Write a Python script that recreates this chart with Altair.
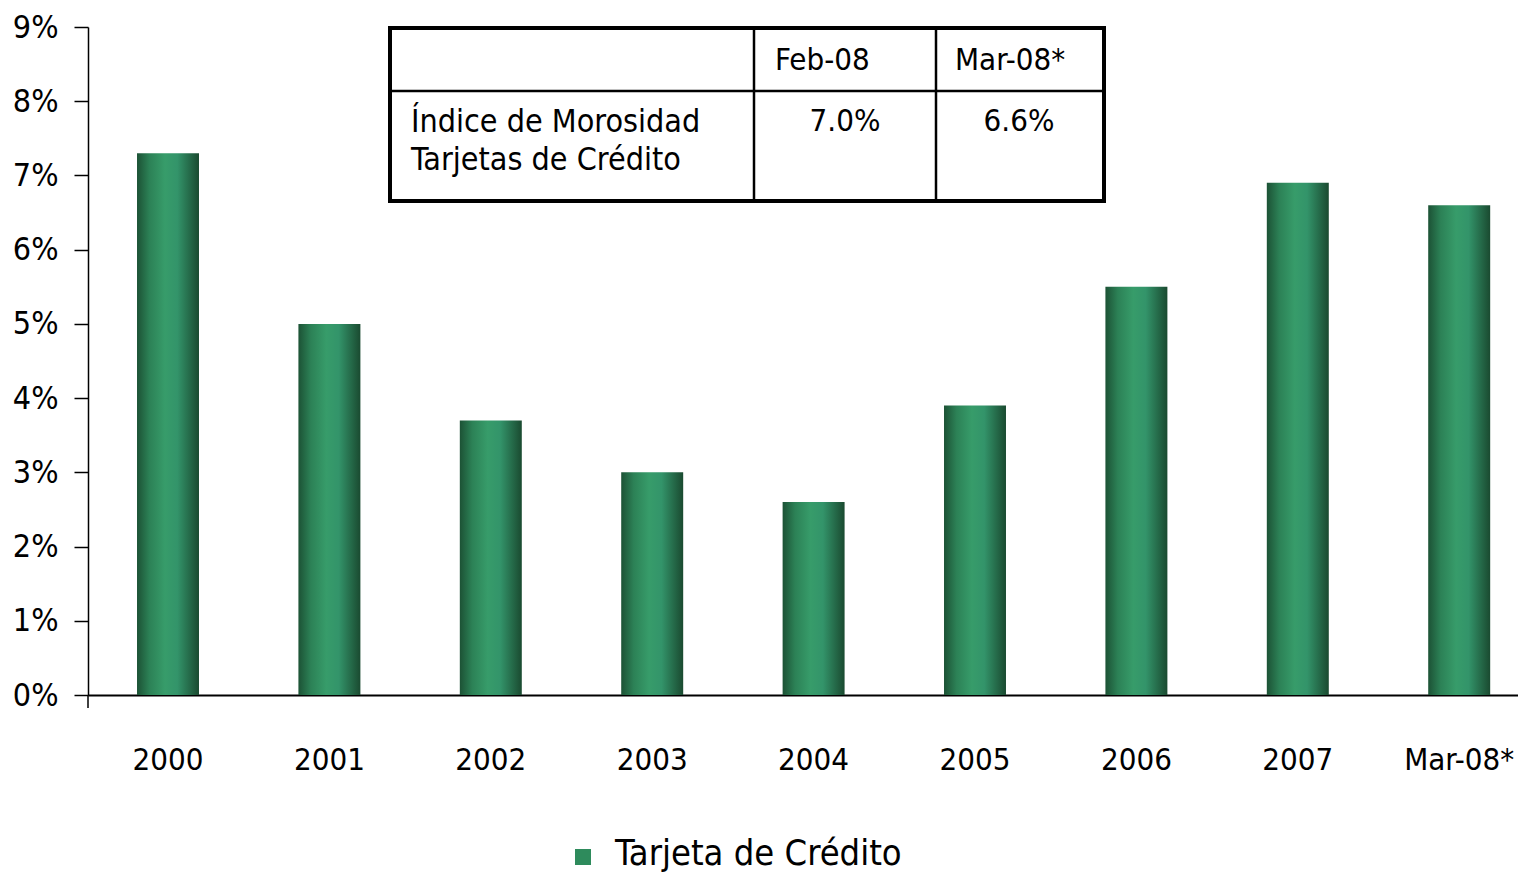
import altair as alt
import pandas as pd

categories = ["2000", "2001", "2002", "2003", "2004", "2005", "2006", "2007", "Mar-08*"]
values = [7.3, 5.0, 3.7, 3.0, 2.6, 3.9, 5.5, 6.9, 6.6]
y_ticks = [0, 1, 2, 3, 4, 5, 6, 7, 8, 9]
series_name = "Tarjeta de Crédito"
table_header = ["", "Feb-08", "Mar-08*"]
table_row_label = ["Índice de Morosidad", "Tarjetas de Crédito"]
table_row_values = ["7.0%", "6.6%"]

FONT = "Liberation Sans Narrow, DejaVu Sans Condensed, sans-serif"

df = pd.DataFrame({"cat": categories, "val": values})
one = pd.DataFrame({"a": [0]})

grad = alt.LinearGradient(
    gradient="linear",
    x1=0, x2=1, y1=0, y2=0,
    stops=[
        alt.GradientStop(color="#1c5235", offset=0),
        alt.GradientStop(color="#2c8156", offset=0.2),
        alt.GradientStop(color="#379c6a", offset=0.45),
        alt.GradientStop(color="#33946a", offset=0.65),
        alt.GradientStop(color="#1a4a30", offset=1),
    ],
)

bars = alt.Chart(df).mark_bar(fill=grad).encode(
    x=alt.X(
        "cat:N",
        sort=categories,
        scale=alt.Scale(paddingInner=0.616, paddingOuter=0.238, align=0.638),
        axis=alt.Axis(
            title=None, labelAngle=0, ticks=False, labelPadding=50,
            labelFontSize=31, labelFont=FONT, labelColor="black",
            domainColor="black", domainWidth=2,
        ),
    ),
    y=alt.Y(
        "val:Q",
        scale=alt.Scale(domain=[0, 9], nice=False),
        axis=alt.Axis(
            values=y_ticks, labelExpr="datum.value + '%'", title=None, grid=False,
            tickSize=14, tickColor="black", tickWidth=1.5,
            domainColor="black", domainWidth=1.5,
            labelFontSize=32, labelPadding=16, labelColor="black", labelFont=FONT,
        ),
    ),
)

# small extension of the vertical axis below the baseline
ext = alt.Chart(one).mark_rule(color="black", strokeWidth=1.5).encode(
    x=alt.value(0), y=alt.value(668), y2=alt.value(681)
)

# table
box = alt.Chart(one).mark_rect(fill="white", stroke="black", strokeWidth=4).encode(
    x=alt.value(302), x2=alt.value(1016), y=alt.value(1), y2=alt.value(174)
)
hline = alt.Chart(one).mark_rule(color="black", strokeWidth=2.5).encode(
    x=alt.value(302), x2=alt.value(1016), y=alt.value(64)
)
vline1 = alt.Chart(one).mark_rule(color="black", strokeWidth=2.5).encode(
    x=alt.value(666), y=alt.value(1), y2=alt.value(174)
)
vline2 = alt.Chart(one).mark_rule(color="black", strokeWidth=2.5).encode(
    x=alt.value(848), y=alt.value(1), y2=alt.value(174)
)


def txt(s, x, y, align="left", size=31):
    return alt.Chart(one).mark_text(
        align=align, baseline="middle", fontSize=size, font=FONT, color="black"
    ).encode(x=alt.value(x), y=alt.value(y), text=alt.value(s))


t_feb = txt(table_header[1], 687, 34)
t_mar = txt(table_header[2], 867, 34)
t_r1 = txt(table_row_label[0], 323, 95, size=32)
t_r2 = txt(table_row_label[1], 323, 133, size=32)
t_v1 = txt(table_row_values[0], 757, 95, align="center")
t_v2 = txt(table_row_values[1], 931, 95, align="center")

# legend
leg_sq = alt.Chart(one).mark_square(size=256, fill="#2e8b5c", opacity=1).encode(
    x=alt.value(495), y=alt.value(830)
)
leg_tx = txt(series_name, 527, 827, size=36)

chart = alt.layer(
    bars, ext, box, hline, vline1, vline2,
    t_feb, t_mar, t_r1, t_r2, t_v1, t_v2, leg_sq, leg_tx,
).properties(
    width=1430, height=668,
    autosize=alt.AutoSizeParams(type="none"),
    padding={"left": 80, "top": 19, "right": 0, "bottom": 180},
).configure_view(stroke=None)

chart.save("out.html", embed_options={"renderer": "svg", "actions": False})
